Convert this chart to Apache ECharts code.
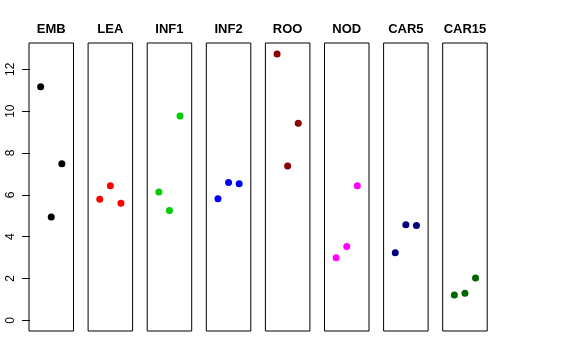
<!DOCTYPE html>
<html><head><meta charset="utf-8">
<script src="https://cdn.jsdelivr.net/npm/echarts@6/dist/echarts.min.js"></script>
<style>html,body{margin:0;padding:0;background:#fff}#c{width:576px;height:360px}</style>
</head><body><div id="c"></div>
<script>
const categories = ['EMB','LEA','INF1','INF2','ROO','NOD','CAR5','CAR15'];
const emb   = [11.17, 4.94, 7.49];
const lea   = [5.79, 6.44, 5.60];
const inf1  = [6.13, 5.25, 9.77];
const inf2  = [5.81, 6.59, 6.53];
const roo   = [12.74, 7.38, 9.42];
const nod   = [2.99, 3.53, 6.43];
const car5  = [3.23, 4.57, 4.53];
const car15 = [1.21, 1.29, 2.02];
const yTicks = [0, 2, 4, 6, 8, 10, 12];
const colors = ['#000000','#FF0000','#00CD00','#0000FF','#8B0000','#FF00FF','#000080','#006400'];
const values = [emb, lea, inf1, inf2, roo, nod, car5, car15];

const grids = [], xAxes = [], yAxes = [], series = [];
categories.forEach((name, i) => {
  grids.push({left: 29 + i * 59.1, top: 43, width: 44.5, height: 288, show: true,
    borderColor: '#000', borderWidth: 1, backgroundColor: 'transparent'});
  xAxes.push({gridIndex: i, type: 'value', min: -0.1, max: 4.1, position: 'top',
    name: name, nameLocation: 'middle', nameGap: 7,
    nameTextStyle: {fontFamily: 'Liberation Sans', fontWeight: 'bold', fontSize: 13, color: '#000'},
    axisLine: {show: false}, axisTick: {show: false}, axisLabel: {show: false}, splitLine: {show: false}});
  yAxes.push({gridIndex: i, type: 'value', min: -0.51, max: 13.26,
    axisLine: {show: false},
    axisTick: {show: i === 0, length: 8, lineStyle: {color: '#000'}, customValues: yTicks},
    axisLabel: {show: i === 0, rotate: 90, margin: 12, customValues: yTicks,
      fontFamily: 'Liberation Sans', fontSize: 12, color: '#000'},
    splitLine: {show: false}});
  series.push({type: 'scatter', xAxisIndex: i, yAxisIndex: i, symbolSize: 7,
    itemStyle: {color: colors[i], opacity: 1},
    data: values[i].map((v, k) => [k + 1, v]), animation: false});
});

const chart = echarts.init(document.getElementById('c'), null, {renderer: 'canvas'});
chart.setOption({animation: false, grid: grids, xAxis: xAxes, yAxis: yAxes, series: series});
</script></body></html>
